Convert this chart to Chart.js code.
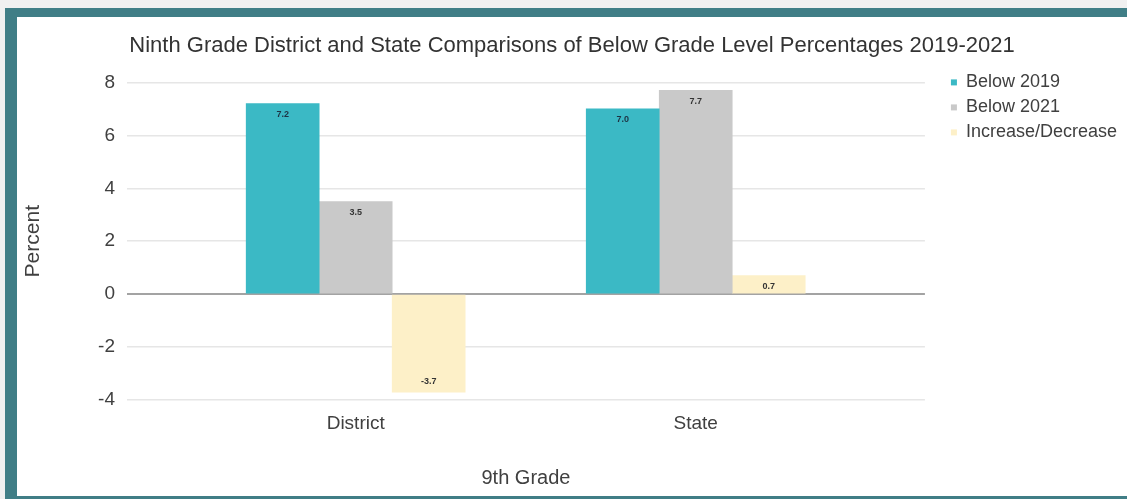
<!DOCTYPE html>
<html lang="en">
<head>
    <meta charset="UTF-8">
    <title>Ninth Grade District and State Comparisons</title>
    <script src="https://cdn.jsdelivr.net/npm/chart.js"></script>
    <style>
        body {
            margin: 0;
            padding: 0;
            background-color: #f0f0f0;
        }

        /* teal frame round the chart */
        .frame {
            position: absolute;
            left: 5px;
            top: 8px;
            width: 1110px;
            height: 479px;
            border-style: solid;
            border-color: #407e86;
            border-width: 9px 0 3px 12px;
            background-color: #fff;
        }

        .frame canvas {
            display: block;
        }
    </style>
</head>
<body>
    <div class="frame">
        <canvas id="gradeChart" width="1110" height="479"></canvas>
    </div>

    <script>
        var categories = ['District', 'State'];
        var below2019 = [7.2, 7.0];
        var below2021 = [3.5, 7.7];
        var change = [-3.7, 0.7];
        var seriesNames = ['Below 2019', 'Below 2021', 'Increase/Decrease'];

        var fontFamily = '"Liberation Sans", Arial, sans-serif';
        var textColor = '#404040';

        function points(values) {
            return values.map(function (v, i) { return { x: i, y: v }; });
        }

        // value labels just inside the end of each bar
        var valueLabels = {
            id: 'valueLabels',
            afterDatasetsDraw: function (chart) {
                var ctx = chart.ctx;
                ctx.save();
                ctx.font = 'bold 9px ' + fontFamily;
                ctx.textAlign = 'center';
                ctx.textBaseline = 'middle';
                chart.data.datasets.forEach(function (ds, i) {
                    ctx.fillStyle = i === 0 ? '#1d3344' : '#333333';
                    chart.getDatasetMeta(i).data.forEach(function (bar, j) {
                        var v = ds.data[j].y;
                        var dir = v >= 0 ? 1 : -1;
                        ctx.fillText(v.toFixed(1), bar.x, bar.y + dir * 11);
                    });
                });
                ctx.restore();
            }
        };

        var ctx = document.getElementById('gradeChart').getContext('2d');
        var gradeChart = new Chart(ctx, {
            type: 'bar',
            data: {
                datasets: [
                    { label: seriesNames[0], data: points(below2019), backgroundColor: '#3bb9c5' },
                    { label: seriesNames[1], data: points(below2021), backgroundColor: '#c9c9c9' },
                    { label: seriesNames[2], data: points(change), backgroundColor: '#fdf0c8' }
                ]
            },
            options: {
                responsive: false,
                animation: false,
                barThickness: 73,
                layout: { padding: 0 },
                plugins: {
                    title: {
                        display: true,
                        text: 'Ninth Grade District and State Comparisons of Below Grade Level Percentages 2019-2021',
                        color: '#333',
                        font: { family: fontFamily, size: 22, weight: 'normal' },
                        padding: { top: 16, bottom: 23 }
                    },
                    legend: {
                        position: 'right',
                        align: 'start',
                        title: { display: true, text: ' ', padding: { top: 35, bottom: 0 } },
                        labels: {
                            boxWidth: 6,
                            boxHeight: 6,
                            padding: 7,
                            color: textColor,
                            font: { family: fontFamily, size: 18 }
                        }
                    },
                    tooltip: { enabled: false }
                },
                scales: {
                    x: {
                        type: 'linear',
                        offset: false,
                        min: -0.6725,
                        max: 1.674,
                        afterBuildTicks: function (axis) {
                            axis.ticks = categories.map(function (c, i) { return { value: i }; });
                        },
                        afterFit: function (axis) { axis.height = 96; },
                        grid: { display: false, drawTicks: false },
                        border: { display: false },
                        ticks: {
                            padding: 12,
                            color: textColor,
                            font: { family: fontFamily, size: 19 },
                            callback: function (v) { return categories[v]; }
                        },
                        title: {
                            display: true,
                            text: '9th Grade',
                            color: textColor,
                            font: { family: fontFamily, size: 20 },
                            padding: { top: 0, bottom: 6 }
                        }
                    },
                    y: {
                        min: -4,
                        max: 8,
                        afterFit: function (axis) { axis.width = 110; },
                        grid: {
                            drawTicks: false,
                            color: function (c) { return c.tick.value === 0 ? '#a3a3a3' : '#e6e6e6'; },
                            lineWidth: function (c) { return c.tick.value === 0 ? 2 : 1.5; }
                        },
                        border: { display: false },
                        ticks: {
                            stepSize: 2,
                            padding: 12,
                            color: textColor,
                            font: { family: fontFamily, size: 19 }
                        },
                        title: {
                            display: true,
                            text: 'Percent',
                            color: textColor,
                            font: { family: fontFamily, size: 21 },
                            padding: { top: 4, bottom: 0 }
                        }
                    },
                    // empty axis, only keeps a gap between plot and legend
                    gap: {
                        position: 'right',
                        afterFit: function (axis) { axis.width = 19; },
                        grid: { display: false, drawTicks: false },
                        border: { display: false },
                        ticks: { display: false }
                    }
                }
            },
            plugins: [valueLabels]
        });
    </script>
</body>
</html>
